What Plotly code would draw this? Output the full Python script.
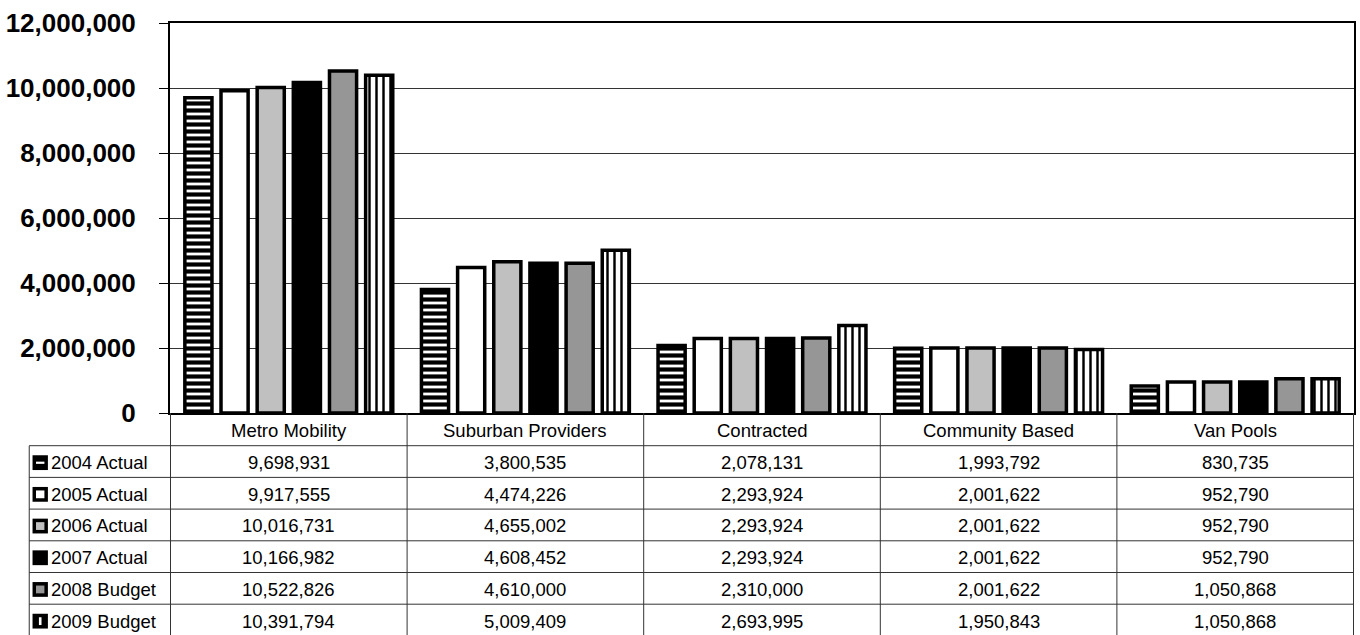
import plotly.graph_objects as go

categories = ["Metro Mobility", "Suburban Providers", "Contracted", "Community Based", "Van Pools"]
series_names = ["2004 Actual", "2005 Actual", "2006 Actual", "2007 Actual", "2008 Budget", "2009 Budget"]
v2004 = [9698931, 3800535, 2078131, 1993792, 830735]
v2005 = [9917555, 4474226, 2293924, 2001622, 952790]
v2006 = [10016731, 4655002, 2293924, 2001622, 952790]
v2007 = [10166982, 4608452, 2293924, 2001622, 952790]
v2008 = [10522826, 4610000, 2310000, 2001622, 1050868]
v2009 = [10391794, 5009409, 2693995, 1950843, 1050868]
series_values = [v2004, v2005, v2006, v2007, v2008, v2009]
y_ticks = [0, 2000000, 4000000, 6000000, 8000000, 10000000, 12000000]

W, H = 1360, 635
L, R, T, B = 170, 4, 23, 222
plot_w = W - L - R
plot_h = H - T - B
FONT = "Liberation Sans, Arial, sans-serif"

def px_to_py(py):
    return (H - B - py) / plot_h

def px_to_px(px):
    return (px - L) / plot_w

styles = [
    dict(color="white", pattern=dict(shape="-", fgcolor="black", bgcolor="white", size=7, solidity=0.6, fillmode="replace")),
    dict(color="white"),
    dict(color="#C0C0C0"),
    dict(color="black"),
    dict(color="#969696"),
    dict(color="white", pattern=dict(shape="|", fgcolor="black", bgcolor="white", size=7, solidity=0.35, fillmode="replace")),
]

fig = go.Figure()
for name, vals, st in zip(series_names, series_values, styles):
    marker = dict(color=st["color"], line=dict(color="black", width=3.5))
    if "pattern" in st:
        marker["pattern"] = st["pattern"]
    fig.add_trace(go.Bar(name=name, x=categories, y=vals, marker=marker))

shapes = []
annotations = []

# table geometry
header_top = H - B
header_bottom = 445.7
row_h = 31.7
legend_left = 29

line_style = dict(color="#333333", width=1)
# vertical lines at category boundaries
for i in range(len(categories) + 1):
    shapes.append(dict(type="line", xref="x", yref="paper", x0=i - 0.5, x1=i - 0.5,
                       y0=px_to_py(header_top), y1=px_to_py(H + 5), line=line_style))
# legend column left border
shapes.append(dict(type="line", xref="paper", yref="paper", x0=px_to_px(legend_left), x1=px_to_px(legend_left),
                   y0=px_to_py(header_bottom), y1=px_to_py(H + 5), line=line_style))
# horizontal row lines
for r in range(len(series_names) + 1):
    yy = header_bottom + r * row_h
    shapes.append(dict(type="line", xref="paper", yref="paper", x0=px_to_px(legend_left), x1=1,
                       y0=px_to_py(yy), y1=px_to_py(yy), line=line_style))

# header texts
for c in categories:
    annotations.append(dict(xref="x", yref="paper", x=c, y=px_to_py((header_top + header_bottom) / 2 + 1),
                            text=c, showarrow=False, xanchor="center", yanchor="middle",
                            font=dict(family=FONT, size=18.5, color="black")))

# rows
for r, (name, vals) in enumerate(zip(series_names, series_values)):
    cy = header_bottom + r * row_h + row_h / 2 + 1
    for c, v in zip(categories, vals):
        annotations.append(dict(xref="x", yref="paper", x=c, y=px_to_py(cy),
                                text=f"{v:,}", showarrow=False, xanchor="center", yanchor="middle",
                                font=dict(family=FONT, size=18.5, color="black")))
    annotations.append(dict(xref="paper", yref="paper", x=px_to_px(49), y=px_to_py(cy),
                            text=name, showarrow=False, xanchor="left", yanchor="middle",
                            font=dict(family=FONT, size=18.5, color="black")))
    # legend swatch
    sx0, sx1 = 32.3, 47.7
    sy0, sy1 = cy - 7.3, cy + 7.5
    def rect(x0, y0, x1, y1, color):
        return dict(type="rect", xref="paper", yref="paper", x0=px_to_px(x0), x1=px_to_px(x1),
                    y0=px_to_py(y0), y1=px_to_py(y1), fillcolor=color, line=dict(width=0), layer="above")
    shapes.append(rect(sx0, sy0, sx1, sy1, "black"))
    inner = {1: "white", 2: "#C0C0C0", 4: "#969696"}
    if r in inner:
        shapes.append(rect(sx0 + 3.5, sy0 + 3.5, sx1 - 3.5, sy1 - 3.5, inner[r]))
    elif r == 0:
        shapes.append(rect(sx0 + 3.5, (sy0 + sy1) / 2 - 1, sx1 - 3.5, (sy0 + sy1) / 2 + 1.2, "white"))
    elif r == 5:
        shapes.append(rect((sx0 + sx1) / 2 - 1.3, sy0 + 3.5, (sx0 + sx1) / 2 + 1.3, sy1 - 3.5, "white"))

fig.update_layout(
    width=W, height=H,
    margin=dict(l=L, r=R, t=T, b=B, pad=0),
    paper_bgcolor="white", plot_bgcolor="white",
    barmode="group", bargap=0.083, bargroupgap=0.25,
    showlegend=False,
    shapes=shapes, annotations=annotations,
    xaxis=dict(showticklabels=False, ticks="", showgrid=False, zeroline=False,
               showline=True, linecolor="black", linewidth=2, mirror=True),
    yaxis=dict(range=[0, 12000000], tickvals=y_ticks, tickformat=",d",
               ticks="outside", ticklen=9, tickcolor="black", tickwidth=1,
               ticklabelstandoff=18,
               tickfont=dict(family=FONT, size=26, color="black", weight="bold"),
               showgrid=True, gridcolor="#333333", gridwidth=1, zeroline=False,
               showline=True, linecolor="black", linewidth=2, mirror=True),
    font=dict(family=FONT),
)

fig.write_html("out.html")
